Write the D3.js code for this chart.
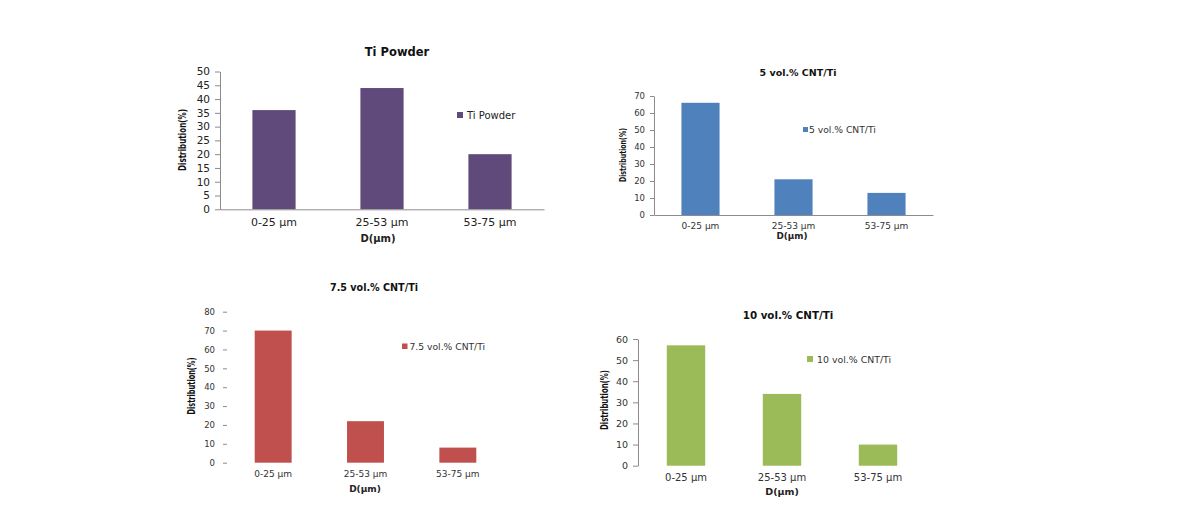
<!DOCTYPE html>
<html>
<head>
<meta charset="utf-8">
<script src="https://cdn.jsdelivr.net/npm/d3@7/dist/d3.min.js"></script>
<style>
  body { margin: 0; background: #fff; }
  svg { display: block; }
</style>
</head>
<body>
<svg id="chart" width="1190" height="519"></svg>
<script>
// ---- Data ----
const categories = ["0-25 µm", "25-53 µm", "53-75 µm"];
const tiPowder = [36, 44, 20];
const cnt5 = [66, 21, 13];
const cnt75 = [70, 22, 8];
const cnt10 = [57, 34, 10];
const ticksTi = [0, 5, 10, 15, 20, 25, 30, 35, 40, 45, 50];
const ticks5 = [0, 10, 20, 30, 40, 50, 60, 70];
const ticks75 = [0, 10, 20, 30, 40, 50, 60, 70, 80];
const ticks10 = [0, 10, 20, 30, 40, 50, 60];
const titles = ["Ti Powder", "5 vol.% CNT/Ti", "7.5 vol.% CNT/Ti", "10 vol.% CNT/Ti"];
const legendNames = ["Ti Powder", "5 vol.% CNT/Ti", "7.5 vol.% CNT/Ti", "10 vol.% CNT/Ti"];
const xTitle = "D(µm)";
const yTitle = "Distribution(%)";

// ---- Layout / style per panel ----
const panels = [
  { values: tiPowder, ticks: ticksTi, title: titles[0], legend: legendNames[0], color: "#604A7B",
    x0: 220, x1: 544, yZero: 209.3, yTop: 71.5, pad: 0.6, yLine: true, xLine: true, tickLen: 5,
    tickFont: 10.5, titleFont: 11.5, titleX: 397, titleY: 56, legX: 457, legY: 112, legSq: 6, legFont: 10, legGap: 4,
    yLabX: 186, yLabY: 140, yLabFont: 10.5, yLabLen: 62, xLabX: 378, xLabY: 242, xLabFont: 10, catY: 226, textColor: "#222" },
  { values: cnt5, ticks: ticks5, title: titles[1], legend: legendNames[1], color: "#4F81BD",
    x0: 654, x1: 933, yZero: 215, yTop: 96, pad: 0.59, yLine: true, xLine: true, tickLen: 4,
    tickFont: 8.5, titleFont: 9.5, titleX: 798, titleY: 76, legX: 803, legY: 127, legSq: 5, legFont: 9.2, legGap: 1,
    yLabX: 626, yLabY: 155, yLabFont: 9.5, yLabLen: 54, xLabX: 792, xLabY: 239, xLabFont: 8.8, catY: 229, textColor: "#333" },
  { values: cnt75, ticks: ticks75, title: titles[2], legend: legendNames[2], color: "#C0504D",
    x0: 227, x1: 504, yZero: 462.7, yTop: 311.7, pad: 0.6, yLine: false, xLine: false, tickLen: 4,
    tickFont: 8.5, titleFont: 9.6, titleX: 374, titleY: 291, legX: 402, legY: 343.5, legSq: 5.5, legFont: 9.2, legGap: 2,
    yLabX: 195, yLabY: 386, yLabFont: 10, yLabLen: 57, xLabX: 365, xLabY: 492, xLabFont: 9, catY: 477, textColor: "#333" },
  { values: cnt10, ticks: ticks10, title: titles[3], legend: legendNames[3], color: "#9BBB59",
    x0: 638, x1: 926, yZero: 465.7, yTop: 339, pad: 0.6, yLine: true, xLine: false, tickLen: 5,
    tickFont: 9.5, titleFont: 10.3, titleX: 788, titleY: 319, legX: 807, legY: 356, legSq: 6, legFont: 9.4, legGap: 4,
    yLabX: 608, yLabY: 400, yLabFont: 10, yLabLen: 60, xLabX: 782, xLabY: 495, xLabFont: 9.5, catY: 481, textColor: "#333" }
];

const svg = d3.select("#chart");
const baseFont = "'DejaVu Sans', Verdana, sans-serif";

panels.forEach(p => {
  const g = svg.append("g");
  const maxTick = p.ticks[p.ticks.length - 1];
  const x = d3.scaleBand().domain(categories).range([p.x0, p.x1]).paddingInner(p.pad).paddingOuter(p.pad / 2);
  const y = d3.scaleLinear().domain([0, maxTick]).range([p.yZero, p.yTop]);

  // bars
  g.selectAll("rect.bar").data(p.values).join("rect")
    .attr("class", "bar")
    .attr("x", (d, i) => x(categories[i]))
    .attr("width", x.bandwidth())
    .attr("y", d => y(d))
    .attr("height", d => y(0) - y(d))
    .attr("fill", p.color);

  // y axis
  const yAxis = d3.axisLeft(y).tickValues(p.ticks).tickSize(p.tickLen).tickSizeOuter(0).tickPadding(p.yLine ? 5 : 8);
  const ya = g.append("g").attr("transform", `translate(${p.x0},0)`).call(yAxis);
  ya.select(".domain").attr("stroke", p.yLine ? "#8c8c8c" : "none");
  ya.selectAll(".tick line").attr("stroke", "#8c8c8c");
  ya.selectAll(".tick text").attr("font-family", baseFont).attr("font-size", p.tickFont).attr("fill", p.textColor);

  // x axis
  const xAxis = d3.axisBottom(x).tickSize(0).tickSizeOuter(0).tickPadding(0);
  const xa = g.append("g").attr("transform", `translate(0,${p.yZero})`).call(xAxis);
  xa.select(".domain").attr("stroke", p.xLine ? "#8c8c8c" : "none");
  xa.selectAll(".tick text")
    .attr("dy", null)
    .attr("y", p.catY - p.yZero)
    .attr("font-family", baseFont).attr("font-size", p.tickFont + 0.5).attr("fill", p.textColor);

  // title
  g.append("text").attr("x", p.titleX).attr("y", p.titleY)
    .attr("text-anchor", "middle").attr("font-family", baseFont).attr("font-weight", "bold")
    .attr("font-size", p.titleFont).attr("fill", "#111").text(p.title);

  // legend
  g.append("rect").attr("x", p.legX).attr("y", p.legY).attr("width", p.legSq).attr("height", p.legSq).attr("fill", p.color);
  g.append("text").attr("x", p.legX + p.legSq + p.legGap).attr("y", p.legY + p.legSq / 2)
    .attr("dominant-baseline", "central").attr("font-family", baseFont).attr("font-size", p.legFont)
    .attr("fill", p.textColor).text(p.legend);

  // axis titles
  g.append("text").attr("transform", `translate(${p.yLabX},${p.yLabY}) rotate(-90)`)
    .attr("text-anchor", "middle").attr("font-family", "'DejaVu Sans Condensed', 'DejaVu Sans', sans-serif")
    .attr("font-weight", "bold").attr("font-size", p.yLabFont)
    .attr("textLength", p.yLabLen).attr("lengthAdjust", "spacingAndGlyphs")
    .attr("fill", "#111").text(yTitle);
  g.append("text").attr("x", p.xLabX).attr("y", p.xLabY)
    .attr("text-anchor", "middle").attr("font-family", baseFont).attr("font-weight", "bold")
    .attr("font-size", p.xLabFont).attr("fill", "#222").text(xTitle);
});
</script>
</body>
</html>
